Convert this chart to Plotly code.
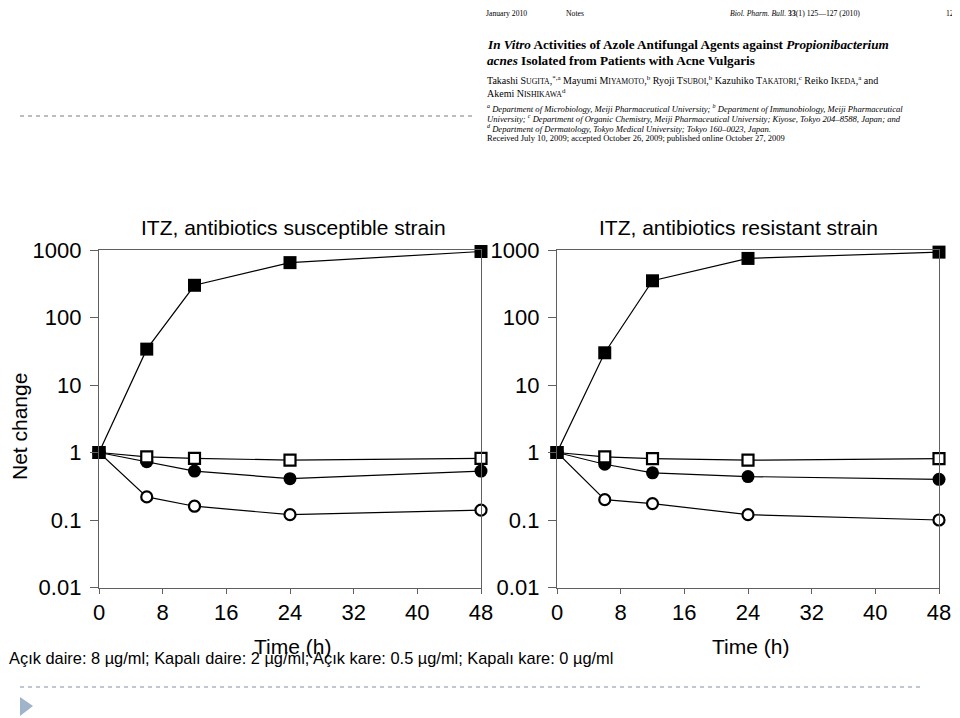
import plotly.graph_objects as go
from plotly.subplots import make_subplots

# ---------------------------------------------------------------------------
# data
# ---------------------------------------------------------------------------
times = [0, 6, 12, 24, 48]

# ITZ, antibiotics susceptible strain
sus_8 = [1, 0.22, 0.16, 0.12, 0.14]      # open circle, 8 ug/ml
sus_2 = [1, 0.73, 0.53, 0.41, 0.53]      # filled circle, 2 ug/ml
sus_05 = [1, 0.86, 0.82, 0.77, 0.82]     # open square, 0.5 ug/ml
sus_0 = [1, 34, 300, 650, 950]           # filled square, 0 ug/ml

# ITZ, antibiotics resistant strain
res_8 = [1, 0.20, 0.175, 0.12, 0.10]
res_2 = [1, 0.67, 0.50, 0.44, 0.40]
res_05 = [1, 0.86, 0.81, 0.77, 0.81]
res_0 = [1, 30, 350, 750, 930]

panel_titles = ["ITZ, antibiotics susceptible strain", "ITZ, antibiotics resistant strain"]
y_tickvals = [0.01, 0.1, 1, 10, 100, 1000]
y_ticktext = ["0.01", "0.1", "1", "10", "100", "1000"]
x_tickvals = [0, 8, 16, 24, 32, 40, 48]

caption = "Açık daire: 8 µg/ml; Kapalı daire: 2 µg/ml; Açık kare: 0.5 µg/ml; Kapalı kare: 0 µg/ml"

W, H = 960, 718
# the page body has an 8px default margin, so layout positions (measured in
# screen pixels) are shifted back by that much
OFF = 8
SANS = "Liberation Sans, Arial, sans-serif"
SERIF = "Liberation Serif, Times New Roman, serif"
AXIS_GREY = "#606060"


def px(x):
    return (x - OFF) / W


def py(y):
    return 1 - (y - OFF) / H


# marker styles per concentration: (symbol, size, susceptible, resistant)
styles = [
    ("circle-open", 11, sus_8, res_8),
    ("circle", 13, sus_2, res_2),
    ("square-open", 11, sus_05, res_05),
    ("square", 13, sus_0, res_0),
]

fig = make_subplots(rows=1, cols=2)

for col in (1, 2):
    for symbol, size, s_vals, r_vals in styles:
        vals = s_vals if col == 1 else r_vals
        is_open = symbol.endswith("open")
        fig.add_trace(
            go.Scatter(
                x=times,
                y=vals,
                mode="lines+markers",
                line=dict(color="black", width=1.2),
                marker=dict(
                    symbol=symbol.replace("-open", ""),
                    size=size,
                    color="white" if is_open else "black",
                    line=dict(color="black", width=2.2 if is_open else 0),
                ),
                cliponaxis=False,
                showlegend=False,
            ),
            row=1,
            col=col,
        )

x_domains = [[px(99), px(481)], [px(557), px(939)]]
y_domain = [py(587.5), py(250)]

for i, col in enumerate((1, 2)):
    fig.update_xaxes(
        domain=x_domains[i],
        range=[0, 48],
        tickvals=x_tickvals,
        ticks="outside",
        ticklen=5,
        tickcolor=AXIS_GREY,
        showline=True,
        linecolor=AXIS_GREY,
        linewidth=1.3,
        mirror=True,
        showgrid=False,
        zeroline=False,
        automargin=False,
        tickfont=dict(family=SANS, size=22, color="black"),
        row=1,
        col=col,
    )
    fig.update_yaxes(
        domain=y_domain,
        type="log",
        range=[-2, 3],
        tickvals=y_tickvals,
        ticktext=y_ticktext,
        ticks="outside",
        ticklen=8,
        tickcolor=AXIS_GREY,
        ticklabelstandoff=4,
        showline=True,
        linecolor=AXIS_GREY,
        linewidth=1.3,
        mirror=True,
        showgrid=False,
        zeroline=False,
        automargin=False,
        tickfont=dict(family=SANS, size=22, color="black"),
        row=1,
        col=col,
    )

annotations = []


def text(x, y, s, size, family=SANS, xanchor="center", yanchor="middle", angle=0):
    annotations.append(dict(
        x=px(x), y=py(y), xref="paper", yref="paper", text=s, showarrow=False,
        xanchor=xanchor, yanchor=yanchor, textangle=angle,
        font=dict(family=family, size=size, color="black"),
    ))


# panel titles and axis titles
text(293, 227, panel_titles[0], 21)
text(738, 227, panel_titles[1], 21)
text(292, 646, "Time (h)", 21)
text(750, 646, "Time (h)", 21)
# kept just inside the visible page area
text(20, 427, "Net change", 21, angle=-90)

# caption
text(7, 658, caption, 16.4, xanchor="left")


# paper header (scanned article snippet)
def sc(s):
    # small caps imitation
    return s[0] + "<span style='font-size:0.78em'>" + s[1:].upper() + "</span>"


text(484, 14, "January 2010", 7.7, SERIF, xanchor="left")
text(564, 14, "Notes", 7.7, SERIF, xanchor="left")
text(728, 14, "<i>Biol. Pharm. Bull.</i> <b>33</b>(1) 125—127 (2010)", 7.7, SERIF, xanchor="left")
text(944, 14, "125", 7.7, SERIF, xanchor="left")
text(485, 44, "<b><i>In Vitro</i> Activities of Azole Antifungal Agents against <i>Propionibacterium</i></b>",
     13.2, SERIF, xanchor="left")
text(485, 60, "<b><i>acnes</i> Isolated from Patients with Acne Vulgaris</b>", 13.2, SERIF, xanchor="left")
text(485, 80,
     "Takashi " + sc("Sugita") + ",<sup>*,a</sup> Mayumi " + sc("Miyamoto") + ",<sup>b</sup> Ryoji "
     + sc("Tsuboi") + ",<sup>b</sup> Kazuhiko " + sc("Takatori") + ",<sup>c</sup> Reiko "
     + sc("Ikeda") + ",<sup>a</sup> and",
     10, SERIF, xanchor="left")
text(485, 93, "Akemi " + sc("Nishikawa") + "<sup>d</sup>", 10, SERIF, xanchor="left")
text(485, 108,
     "<i><sup>a</sup> Department of Microbiology, Meiji Pharmaceutical University; <sup>b</sup> Department of "
     "Immunobiology, Meiji Pharmaceutical</i>", 8.6, SERIF, xanchor="left")
text(485, 118,
     "<i>University; <sup>c</sup> Department of Organic Chemistry, Meiji Pharmaceutical University; Kiyose, "
     "Tokyo 204–8588, Japan; and</i>", 8.6, SERIF, xanchor="left")
text(485, 128,
     "<i><sup>d</sup> Department of Dermatology, Tokyo Medical University; Tokyo 160–0023, Japan.</i>",
     8.6, SERIF, xanchor="left")
text(485, 138, "Received July 10, 2009; accepted October 26, 2009; published online October 27, 2009",
     8.5, SERIF, xanchor="left")

shapes = [
    dict(type="line", xref="paper", yref="paper", x0=px(20), x1=px(475), y0=py(116), y1=py(116),
         line=dict(color="#a8a8a8", width=1.5, dash="4px,4px")),
    dict(type="line", xref="paper", yref="paper", x0=px(20), x1=px(920), y0=py(687), y1=py(687),
         line=dict(color="#a9b6c6", width=1.5, dash="4px,4px")),
    dict(type="path", xref="paper", yref="paper",
         path=f"M {px(20)} {py(697)} L {px(33)} {py(706)} L {px(20)} {py(716)} Z",
         fillcolor="#9fb3cb", line=dict(width=0)),
]

fig.update_layout(
    width=W,
    height=H,
    margin=dict(l=0, r=0, t=0, b=0, autoexpand=False),
    paper_bgcolor="white",
    plot_bgcolor="white",
    showlegend=False,
    annotations=annotations,
    shapes=shapes,
)

fig.write_html("out.html")
